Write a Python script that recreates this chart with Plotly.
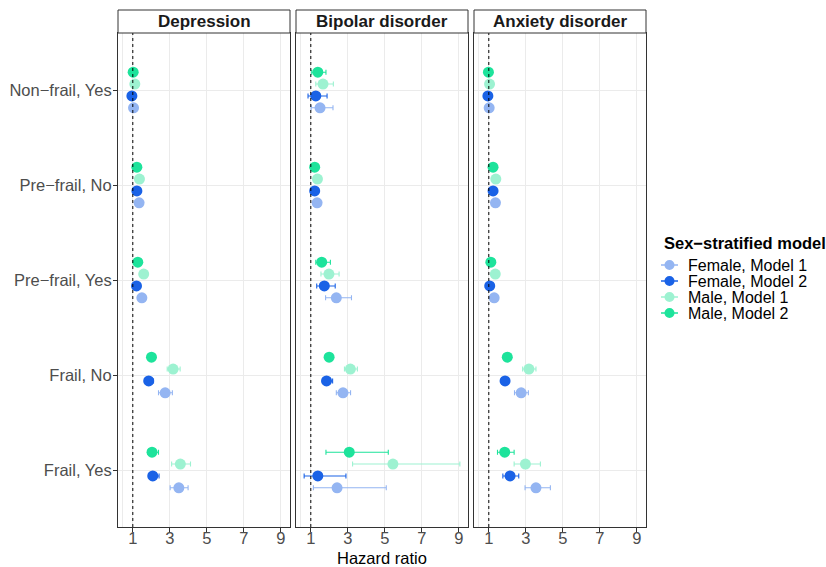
import plotly.graph_objects as go

panels = ["Depression", "Bipolar disorder", "Anxiety disorder"]
categories = ["Non\u2212frail, Yes", "Pre\u2212frail, No", "Pre\u2212frail, Yes", "Frail, No", "Frail, Yes"]
groups = ["Female, Model 1", "Female, Model 2", "Male, Model 1", "Male, Model 2"]
colors = ["#94B5F2", "#1A62E6", "#9DF2D1", "#1DE39B"]
x_ticks = [1, 3, 5, 7, 9]

# Hazard ratios [panel][group][category]
hr = {
    "Depression": {
        "Female, Model 1": [1.04, 1.34, 1.49, 2.75, 3.49],
        "Female, Model 2": [0.95, 1.22, 1.20, 1.86, 2.08],
        "Male, Model 1":   [1.11, 1.36, 1.59, 3.18, 3.57],
        "Male, Model 2":   [1.02, 1.22, 1.27, 2.01, 2.04],
    },
    "Bipolar disorder": {
        "Female, Model 1": [1.50, 1.34, 2.38, 2.74, 2.42],
        "Female, Model 2": [1.27, 1.21, 1.73, 1.85, 1.38],
        "Male, Model 1":   [1.66, 1.36, 1.98, 3.14, 5.44],
        "Male, Model 2":   [1.38, 1.21, 1.59, 1.99, 3.08],
    },
    "Anxiety disorder": {
        "Female, Model 1": [1.02, 1.36, 1.29, 2.75, 3.55],
        "Female, Model 2": [0.95, 1.23, 1.05, 1.88, 2.15],
        "Male, Model 1":   [1.04, 1.38, 1.35, 3.17, 2.98],
        "Male, Model 2":   [0.98, 1.23, 1.11, 2.00, 1.86],
    },
}
lower = {
    "Depression": {
        "Female, Model 1": [0.96, 1.25, 1.36, 2.39, 3.02],
        "Female, Model 2": [0.88, 1.14, 1.09, 1.68, 1.85],
        "Male, Model 1":   [1.02, 1.27, 1.45, 2.86, 3.10],
        "Male, Model 2":   [0.94, 1.14, 1.16, 1.84, 1.80],
    },
    "Bipolar disorder": {
        "Female, Model 1": [1.02, 1.24, 1.80, 2.38, 1.14],
        "Female, Model 2": [0.85, 1.12, 1.32, 1.68, 0.64],
        "Male, Model 1":   [1.27, 1.25, 1.55, 2.82, 3.26],
        "Male, Model 2":   [1.05, 1.12, 1.27, 1.83, 1.82],
    },
    "Anxiety disorder": {
        "Female, Model 1": [0.95, 1.27, 1.19, 2.39, 2.96],
        "Female, Model 2": [0.88, 1.15, 0.96, 1.74, 1.76],
        "Male, Model 1":   [0.97, 1.29, 1.24, 2.83, 2.37],
        "Male, Model 2":   [0.91, 1.15, 1.02, 1.82, 1.47],
    },
}
upper = {
    "Depression": {
        "Female, Model 1": [1.12, 1.44, 1.63, 3.14, 3.99],
        "Female, Model 2": [1.03, 1.31, 1.33, 2.12, 2.42],
        "Male, Model 1":   [1.21, 1.46, 1.74, 3.56, 4.12],
        "Male, Model 2":   [1.10, 1.31, 1.39, 2.20, 2.39],
    },
    "Bipolar disorder": {
        "Female, Model 1": [2.20, 1.45, 3.20, 3.15, 5.08],
        "Female, Model 2": [1.88, 1.31, 2.32, 2.18, 2.90],
        "Male, Model 1":   [2.22, 1.48, 2.53, 3.52, 9.06],
        "Male, Model 2":   [1.82, 1.31, 2.06, 2.17, 5.19],
    },
    "Anxiety disorder": {
        "Female, Model 1": [1.10, 1.46, 1.40, 3.14, 4.33],
        "Female, Model 2": [1.03, 1.32, 1.15, 2.05, 2.62],
        "Male, Model 1":   [1.12, 1.48, 1.47, 3.55, 3.79],
        "Male, Model 2":   [1.06, 1.32, 1.21, 2.20, 2.37],
    },
}

FONT = "Liberation Sans, Arial, Helvetica, sans-serif"
dodge_width = 0.5
n_groups = len(groups)
# vertical order top->bottom: Male M2, Male M1, Female M2, Female M1
offsets = {g: dodge_width * ((n_groups - 1 - i) - (n_groups - 1) / 2) / n_groups for i, g in enumerate(groups)}

fig = go.Figure()

W, H = 826, 567
ml, mr, mt, mb = 118, 180, 10, 40
pw = W - ml - mr
ph = H - mt - mb
strip_h = 23
gap = 6
panel_w = (pw - 2 * gap) / 3


def px_x(px):
    return (px - ml) / pw


def px_y(py):
    return (H - mb - py) / ph


for p_i, panel in enumerate(panels):
    xa = "x" if p_i == 0 else f"x{p_i+1}"
    ya = "y" if p_i == 0 else f"y{p_i+1}"
    for g_i, g in enumerate(groups):
        xs = hr[panel][g]
        ys = [c_i + offsets[g] for c_i in range(len(categories))]
        fig.add_trace(go.Scatter(
            x=xs, y=ys, mode="markers",
            marker=dict(color=colors[g_i], size=11, line=dict(width=0)),
            error_x=dict(type="data", symmetric=False,
                         array=[u - v for u, v in zip(upper[panel][g], xs)],
                         arrayminus=[v - l for v, l in zip(xs, lower[panel][g])],
                         color=colors[g_i], thickness=1.1, width=2.5),
            name=g, legendgroup=g, showlegend=False,
            xaxis=xa, yaxis=ya, hoverinfo="skip",
        ))
    x0 = (p_i * (panel_w + gap)) / pw
    x1 = (p_i * (panel_w + gap) + panel_w) / pw
    dom_y = [0, (ph - strip_h) / ph]
    axis_common = dict(showline=True, mirror=True, linecolor="#333333", linewidth=1,
                       gridcolor="#EBEBEB", gridwidth=1, zeroline=False,
                       ticklen=4, tickcolor="#333333", tickwidth=1, automargin=False,
                       tickfont=dict(family=FONT, size=16.5, color="#4D4D4D"))
    xkey = "xaxis" if p_i == 0 else f"xaxis{p_i+1}"
    ykey = "yaxis" if p_i == 0 else f"yaxis{p_i+1}"
    fig.update_layout(**{
        xkey: dict(domain=[x0, x1], range=[0.2, 9.5], tickvals=x_ticks,
                   anchor=ya, ticks="outside", ticklabelstandoff=-8,
                   minor=dict(tickvals=[0.47], showgrid=True, gridcolor="#EBEBEB", ticks=""),
                   **axis_common),
        ykey: dict(domain=dom_y, range=[len(categories) - 0.4, -0.6],
                   tickvals=list(range(len(categories))),
                   ticktext=categories if p_i == 0 else [""] * len(categories),
                   showticklabels=(p_i == 0), anchor=xa,
                   ticks="outside" if p_i == 0 else "", ticklabelstandoff=-2,
                   **axis_common),
    })
    # reference line at HR = 1
    fig.add_shape(type="line", xref=xa, yref=f"{ya} domain", x0=1, x1=1, y0=0, y1=1,
                  line=dict(color="black", width=1, dash="3px,3px"), layer="above")
    # strip
    fig.add_shape(type="rect", xref="paper", yref="paper", x0=x0, x1=x1,
                  y0=dom_y[1], y1=1, fillcolor="white",
                  line=dict(color="#333333", width=1))
    fig.add_annotation(text=f"<b>{panel}</b>", xref="paper", yref="paper",
                       x=(x0 + x1) / 2, y=(dom_y[1] + 1) / 2, showarrow=False,
                       xanchor="center", yanchor="middle",
                       font=dict(family=FONT, size=17, color="#1A1A1A"))

fig.add_annotation(text="Hazard ratio", xref="paper", yref="paper", x=0.5, y=px_y(558),
                   yanchor="middle", showarrow=False,
                   font=dict(family=FONT, size=16.5, color="black"))

# legend (drawn in layout space)
legend_title = "Sex\u2212stratified model"
fig.add_annotation(text=f"<b>{legend_title}</b>", xref="paper", yref="paper",
                   x=px_x(662), y=px_y(243), xanchor="left", yanchor="middle",
                   showarrow=False, font=dict(family=FONT, size=16.5, color="black"))
for g_i, g in enumerate(groups):
    cy = 265 + 16 * g_i
    fig.add_shape(type="line", xref="paper", yref="paper",
                  x0=px_x(661), x1=px_x(678), y0=px_y(cy), y1=px_y(cy),
                  line=dict(color=colors[g_i], width=1.5))
    fig.add_shape(type="circle", xref="paper", yref="paper",
                  x0=px_x(664.5), x1=px_x(674.5), y0=px_y(cy + 5), y1=px_y(cy - 5),
                  fillcolor=colors[g_i], line=dict(width=0))
    fig.add_annotation(text=g, xref="paper", yref="paper",
                       x=px_x(686), y=px_y(cy), xanchor="left", yanchor="middle",
                       showarrow=False, font=dict(family=FONT, size=16, color="black"))

fig.update_layout(
    width=W, height=H,
    margin=dict(l=ml, r=mr, t=mt, b=mb, autoexpand=False),
    paper_bgcolor="white", plot_bgcolor="white",
    font=dict(family=FONT, size=15, color="black"),
    showlegend=False,
)

fig.write_html("out.html")
